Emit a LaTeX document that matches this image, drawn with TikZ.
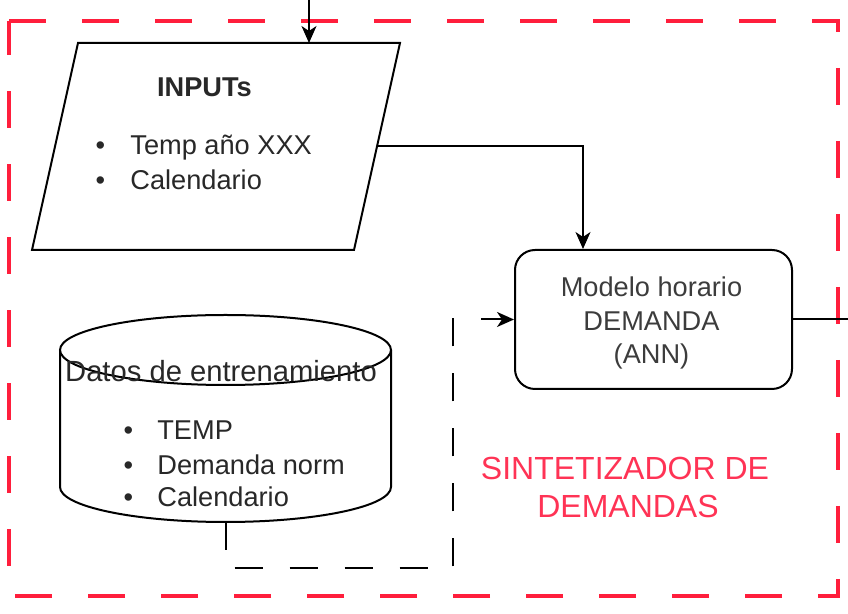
\documentclass[tikz,border=0pt]{standalone}
\usepackage{fontspec}
\setmainfont{Liberation Sans}
\usetikzlibrary{arrows.meta,calc}
\definecolor{redline}{RGB}{255,30,60}
\definecolor{redtext}{RGB}{255,51,85}
\definecolor{txt}{RGB}{40,40,40}
\definecolor{txtgray}{RGB}{60,60,60}
\begin{document}
\begin{tikzpicture}[x=0.5pt,y=-0.5pt,
  conn/.style={draw=black, line width=1pt},
  tip/.style={-{Stealth[length=8.5pt,width=7.5pt,inset=2.5pt]}},
  lbl/.style={font=\fontsize{13.6}{16.75}\selectfont, text=txt, inner sep=0pt},
  shapeline/.style={draw=black, line width=1pt, fill=white},
  bul/.style={lbl, anchor=base west},
]
\useasboundingbox (0,0) rectangle (848,614);

% red dashed boundary
\draw[redline, line width=1.75pt, dash pattern=on 18.5pt off 18pt]
  (9,21) -- (838,21) -- (838,596) -- (9,596) -- cycle;

% parallelogram INPUTs
\coordinate (pTL) at (78,43);
\coordinate (pTR) at (400,43);
\coordinate (pBR) at (354,250);
\coordinate (pBL) at (32,250);
\draw[shapeline] (pTL) -- (pTR) -- (pBR) -- (pBL) -- cycle;
\coordinate (inR) at ($(pTR)!0.5!(pBR)$);
\coordinate (inT) at (309,43);
\coordinate (topIn) at (309,0);
\node[lbl, font=\fontsize{13.6}{16}\selectfont\bfseries, anchor=base] (inTitle) at (204.5,97) {INPUTs};
\node[bul] (in1) at (95.3,155) {\makebox[17.35pt][l]{\textbullet}Temp año XXX};
\node[bul] (in2) at (95.3,190) {\makebox[17.35pt][l]{\textbullet}Calendario};

% model box
\node[draw=black, line width=1pt, rounded corners=10pt, minimum width=138.5pt,
      minimum height=69.5pt, inner sep=0pt] (model) at (653.5,319.5) {};
\node[align=center, inner sep=0pt, font=\fontsize{13.6}{16.75}\selectfont, text=txtgray]
      (modelText) at (651.5,323) {Modelo horario\\DEMANDA\\(ANN)};

% cylinder
\draw[shapeline] (60,350) -- (60,487)
  arc[start angle=180, end angle=360, x radius=82.75pt, y radius=17.5pt] -- (391,350);
\draw[shapeline] (225.5,350) ellipse[x radius=82.75pt, y radius=17.5pt];
\coordinate (dataB) at (225.5,522);
\node[lbl, font=\fontsize{14.6}{16}\selectfont, anchor=base] (dTitle) at (221,382) {Datos de entrenamiento};
\node[bul] (d1) at (123.3,440) {\makebox[16.85pt][l]{\textbullet}TEMP};
\node[bul] (d2) at (123.3,475) {\makebox[16.85pt][l]{\textbullet}Demanda norm};
\node[bul] (d3) at (123.3,507) {\makebox[16.85pt][l]{\textbullet}Calendario};

% group label
\node[font=\fontsize{16}{19}\selectfont, text=redtext, inner sep=0pt, anchor=base] (s1) at (625,480) {SINTETIZADOR DE};
\node[font=\fontsize{16}{19}\selectfont, text=redtext, inner sep=0pt, anchor=base] (s2) at (628,518) {DEMANDAS};

% connectors
\draw[conn, tip] (topIn) -- (inT);
\draw[conn, tip] (inR) -| ($(model.north west)+(69,0)$);
\coordinate (outR) at (848,319.5);
\draw[conn] (model.east) -- (outR);
\coordinate (c1) at (225.5,568);
\coordinate (c2) at (453,568);
\coordinate (c3) at (453,319.5);
\draw[conn, tip, dash pattern=on 14pt off 13.5pt] (dataB) -- (c1) -- (c2) -- (c3) -- (model.west);
\end{tikzpicture}
\end{document}
